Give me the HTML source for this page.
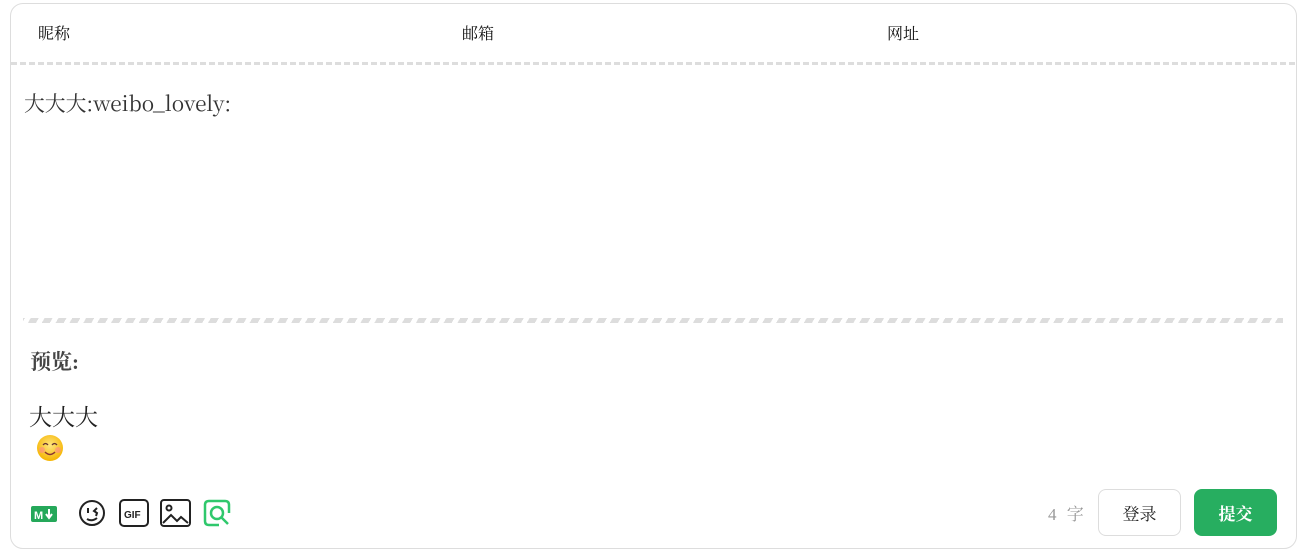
<!DOCTYPE html>
<html><head><meta charset="utf-8"><style>
*{margin:0;padding:0;box-sizing:border-box}
body{width:1303px;height:558px;background:#fff;font-family:"Liberation Serif","Noto Serif CJK SC",serif;color:#222;position:relative;overflow:hidden}
.box{position:absolute;left:10px;top:3px;width:1287px;height:546px;border:1px solid #ddd;border-radius:13px}
.t{position:absolute;white-space:nowrap}
.hd{position:absolute;left:11px;top:62px;width:1285px;height:3px;background:repeating-linear-gradient(90deg,#ddd 0 6px,#fff 6px 9px)}
.stripe{position:absolute;left:23px;top:318px;width:1260px;height:5px;background:repeating-linear-gradient(-60deg,#ddd 0 7px,#fff 7px 12px)}
.btn{position:absolute;top:489px;height:47px;border-radius:8px;font-size:17px;display:flex;align-items:center;justify-content:center}
</style></head><body>
<div class="box"></div>
<div class="t" style="left:38px;top:21px;font-size:16px;color:#111">昵称</div>
<div class="t" style="left:462px;top:21px;font-size:16px;color:#111">邮箱</div>
<div class="t" style="left:887px;top:21px;font-size:16px;color:#111">网址</div>
<div class="hd"></div>
<div class="t" style="left:24px;top:87px;font-size:20.8px;color:#333;font-family:'Noto Serif CJK SC',serif">大大大:weibo_lovely:</div>
<div class="stripe"></div>
<div class="t" style="left:30px;top:346px;font-size:21px;font-weight:bold;color:#444">预览:</div>
<div class="t" style="left:29px;top:399px;font-size:23px">大大大</div>
<svg class="t" style="left:35px;top:433px" width="30" height="30" viewBox="0 0 30 30">
<defs><radialGradient id="g" cx="50%" cy="40%" r="60%"><stop offset="0" stop-color="#ffe680"/><stop offset="1" stop-color="#f5b400"/></radialGradient></defs>
<circle cx="15" cy="15" r="13" fill="url(#g)"/><circle cx="7" cy="17" r="3" fill="#f88" opacity=".6"/><circle cx="23" cy="17" r="3" fill="#f88" opacity=".6"/>
<path d="M8 12q2.5-3 5 0M17 12q2.5-3 5 0" stroke="#633" stroke-width="1.3" fill="none"/><path d="M10 19q5 5 10 0" stroke="#833" stroke-width="1.5" fill="none"/></svg>
<svg class="t" style="left:31px;top:506px" width="26" height="16"><rect width="26" height="16" rx="2" fill="#25a85a"/><text x="3" y="13" font-size="11" font-weight="bold" fill="#fff" font-family="Liberation Sans">M</text><path d="M18 3v8M15 8l3 4 3-4" stroke="#fff" stroke-width="2" fill="none"/></svg>
<svg class="t" style="left:78px;top:499px" width="28" height="28" fill="none" stroke="#222" stroke-width="2"><circle cx="14" cy="14" r="12"/><path d="M10 9v5M19 9l-3 3 3 2-1 3M9 20q5 3 10-1"/></svg>
<svg class="t" style="left:119px;top:499px" width="30" height="28"><rect x="1" y="1" width="28" height="26" rx="4" fill="none" stroke="#222" stroke-width="2"/><text x="5" y="19" font-size="10" font-weight="bold" fill="#222" font-family="Liberation Sans">GIF</text></svg>
<svg class="t" style="left:160px;top:499px" width="31" height="28" fill="none" stroke="#222" stroke-width="2"><rect x="1" y="1" width="29" height="26" rx="3"/><circle cx="9" cy="9" r="2.5"/><path d="M3 24l8-8 6 6 4-4 7 6"/></svg>
<svg class="t" style="left:203px;top:499px" width="30" height="28" fill="none" stroke="#2fc86c" stroke-width="2.5"><path d="M16 26H6q-4 0-4-4V6q0-4 4-4h16q4 0 4 4v8"/><circle cx="14" cy="14" r="6"/><path d="M18 18l7 7"/></svg>
<div class="t" style="left:1048px;top:500px;font-size:17px;color:#999;letter-spacing:3px">4 字</div>
<div class="btn" style="left:1098px;width:83px;border:1px solid #ddd;color:#222">登录</div>
<div class="btn" style="left:1194px;width:83px;background:#27ae60;color:#fff;font-weight:bold">提交</div>
</body></html>
